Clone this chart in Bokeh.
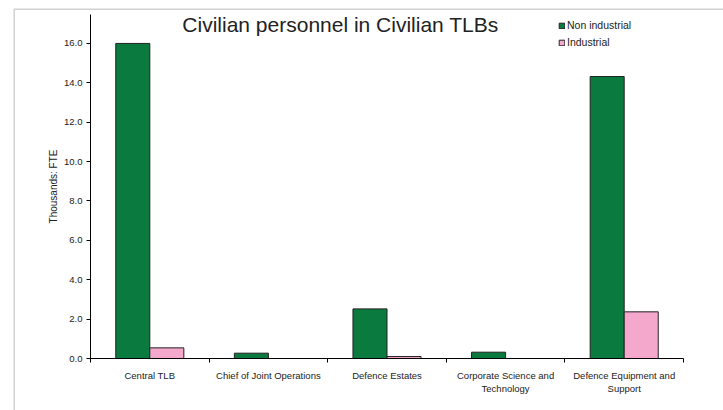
from bokeh.plotting import figure
from bokeh.models import (Range1d, LinearAxis, FixedTicker, BoxAnnotation,
                          ColumnDataSource, Legend, LegendItem, Label,
                          NumeralTickFormatter)
from bokeh.transform import dodge
from bokeh.embed import file_html
from bokeh.resources import INLINE

categories = ["Central TLB", "Chief of Joint Operations", "Defence Estates",
              "Corporate Science and Technology", "Defence Equipment and Support"]
category_labels = ["Central TLB", "Chief of Joint Operations", "Defence Estates",
                   "Corporate Science and\nTechnology", "Defence Equipment and\nSupport"]
non_industrial = [16.0, 0.27, 2.52, 0.32, 14.32]
industrial = [0.54, 0.0, 0.1, 0.0, 2.37]
y_ticks = [0, 2, 4, 6, 8, 10, 12, 14, 16]
y_max = 17.47
title_text = "Civilian personnel in Civilian TLBs"
y_label = "Thousands: FTE"
series_names = ["Non industrial", "Industrial"]

FONT = "Liberation Sans"
GREEN = "#0a7a3e"
PINK = "#f4a8cc"

# layout (pixels): canvas size, chart box (border) and plot area
W, H = 723, 410
BOX_L, BOX_T = 13, 8
PA_L, PA_R, PA_T, PA_B = 90, 683, 14, 358

n = len(categories)
centers = [i + 0.5 for i in range(n)]
bounds = list(range(n + 1))
src = ColumnDataSource(dict(x=centers, cat=categories, ni=non_industrial, ind=industrial))

# frame spans from the chart border to the canvas edge; axes are pinned inside it
xs = (PA_R - PA_L) / n
ys = (PA_B - PA_T) / y_max
x_range = Range1d(-(PA_L - BOX_L) / xs, n + (W - PA_R) / xs)
y_range = Range1d(-(H - PA_B) / ys, y_max + (PA_T - BOX_T) / ys)

p = figure(x_range=x_range, y_range=y_range,
           width=W, height=H, output_backend="svg", toolbar_location=None,
           x_axis_location=None, y_axis_location=None,
           min_border_left=BOX_L, min_border_right=0, min_border_top=BOX_T, min_border_bottom=0)
p.xgrid.visible = False
p.ygrid.visible = False
p.outline_line_color = None
p.background_fill_color = "white"
p.border_fill_color = "white"

bw = 0.287
r1 = p.vbar(x=dodge("x", -bw / 2), top="ni", width=bw, source=src,
            fill_color=GREEN, line_color="#222222", line_width=1)
r2 = p.vbar(x=dodge("x", bw / 2), top="ind", width=bw, source=src,
            fill_color=PINK, line_color="#222222", line_width=1)

# y axis
yax = LinearAxis(ticker=FixedTicker(ticks=y_ticks), formatter=NumeralTickFormatter(format="0.0"),
                 axis_label=y_label, fixed_location=0, bounds=(0, y_max))
yax.major_tick_out = 4
yax.major_tick_in = 0
yax.minor_tick_line_color = None
yax.axis_line_color = "black"
yax.major_tick_line_color = "black"
yax.major_label_text_font = FONT
yax.major_label_text_font_size = "9.5px"
yax.major_label_text_color = "#222222"
yax.major_label_standoff = 4
yax.axis_label_text_font = FONT
yax.axis_label_text_font_size = "10px"
yax.axis_label_text_font_style = "normal"
yax.axis_label_text_color = "#222222"
yax.axis_label_standoff = 2
p.add_layout(yax, "left")

# x axis: labels at category centres, ticks at category boundaries (minor ticks)
xax = LinearAxis(ticker=FixedTicker(ticks=centers, minor_ticks=bounds),
                 fixed_location=0, bounds=(0, n))
xax.axis_line_color = "black"
xax.major_tick_line_color = None
xax.major_tick_out = 0
xax.major_tick_in = 0
xax.minor_tick_line_color = "black"
xax.minor_tick_out = 4
xax.minor_tick_in = 0
xax.major_label_overrides = {c: lab for c, lab in zip(centers, category_labels)}
xax.major_label_text_font = FONT
xax.major_label_text_font_size = "9.5px"
xax.major_label_text_color = "#222222"
xax.major_label_standoff = 7
p.add_layout(xax, "below")

# chart border: a box whose right and bottom edges fall outside the visible frame
frame_h = H - BOX_T
p.add_layout(BoxAnnotation(left=0.5, right=5000, top=frame_h - 0.5, bottom=-5000,
                           left_units="screen", right_units="screen",
                           top_units="screen", bottom_units="screen",
                           fill_color=None, line_color="#666666", line_width=2))

# title
p.add_layout(Label(x=340 - BOX_L, y=H - 24, x_units="screen", y_units="screen", text=title_text,
                   text_font=FONT, text_font_size="21px", text_color="#222222",
                   text_align="center", text_baseline="middle"))

# legend
legend = Legend(items=[LegendItem(label=series_names[0], renderers=[r1]),
                       LegendItem(label=series_names[1], renderers=[r2])],
                location=(558 - BOX_L, H - 48.5), orientation="vertical")
legend.glyph_width = 7
legend.glyph_height = 7
legend.label_height = 13
legend.label_width = 10
legend.spacing = 4
legend.padding = 0
legend.margin = 0
legend.label_standoff = 2
legend.label_text_font = FONT
legend.label_text_font_size = "10.5px"
legend.label_text_color = "#222222"
legend.border_line_color = None
legend.background_fill_alpha = 0
p.add_layout(legend, "center")

open("out.html", "w").write(file_html(p, INLINE))
